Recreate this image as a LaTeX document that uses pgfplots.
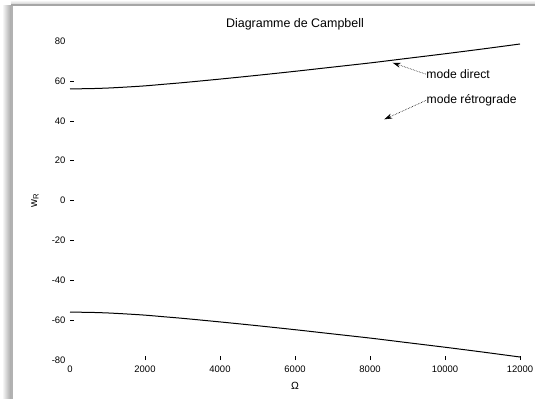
\documentclass[border=0pt]{standalone}
\usepackage{pgfplots}
\pgfplotsset{compat=1.18}
\usepackage{fontspec}
\setmainfont{Liberation Sans}
\usetikzlibrary{arrows.meta}
\begin{document}
\begin{tikzpicture}
\path[use as bounding box] (0bp,0bp) rectangle (535bp,399bp);
% frame / shadow
\shade[left color=white, right color=gray!70] (2bp,0bp) rectangle (11bp,393bp);
\fill[gray!60] (11bp,0bp) rectangle (12.5bp,393bp);
\shade[top color=white, bottom color=gray!35] (11bp,395bp) rectangle (535bp,399bp);
\fill[gray!70] (11bp,392.5bp) rectangle (535bp,394.5bp);
\begin{axis}[
  at={(70bp,39bp)}, anchor=south west,
  width=450bp, height=319bp, scale only axis,
  xmin=0, xmax=12000, ymin=-80, ymax=80,
  axis x line*=bottom, axis y line*=left,
  axis line style={draw=none},
  xtick={2000,4000,...,12000},
  ytick={-60,-40,...,60},
  extra x ticks={0},
  extra y ticks={-80,80},
  extra tick style={major tick length=0pt},
  tick align=inside,
  major tick length=4bp,
  tick style={black, line width=0.5bp},
  scaled x ticks=false,
  /pgf/number format/1000 sep={},
  /pgf/number format/assume math mode=true,
  ticklabel style={font=\fontsize{9.5}{11}\selectfont},
  xticklabel style={yshift=-2bp},
  yticklabel style={xshift=-1bp},
  title={Diagramme de Campbell},
  title style={at={(axis description cs:0.5,1)}, anchor=base, yshift=8bp, font=\fontsize{12.5}{14}\selectfont},
  xlabel={Ω},
  xlabel style={at={(axis description cs:0.5,0)}, anchor=center, yshift=-26bp, font=\fontsize{10.5}{12}\selectfont},
  ylabel={w\textsubscript{R}},
  ylabel style={at={(axis description cs:0,0.5)}, anchor=center, yshift=35bp, font=\fontsize{11}{13}\selectfont},
  clip=false,
]
\addplot[black, line width=1bp, smooth] coordinates {
(0,56.0) (500,56.1) (1000,56.4) (1500,56.9) (2000,57.5) (2500,58.3) (3000,59.1) (4000,60.9) (5000,62.8) (6000,64.8)
(7000,66.9) (8000,69.0) (9000,71.3) (10000,73.6) (11000,76.0) (12000,78.5)};
\addplot[black, line width=1bp, smooth] coordinates {
(0,-56.0) (500,-56.1) (1000,-56.4) (1500,-56.9) (2000,-57.5) (2500,-58.3) (3000,-59.1) (4000,-60.9) (5000,-62.8) (6000,-64.8)
(7000,-66.9) (8000,-69.0) (9000,-71.3) (10000,-73.6) (11000,-76.0) (12000,-78.5)};
\draw[densely dotted, line width=0.6bp, -{Stealth[length=8bp,width=5bp]}] (axis cs:9485,63.4) -- (axis cs:8605,69.1);
\draw[densely dotted, line width=0.6bp, -{Stealth[length=8bp,width=5bp]}] (axis cs:9493,50.2) -- (axis cs:8381,40.7);
\node[anchor=west, inner sep=0.5bp, font=\fontsize{12.2}{14}\selectfont] at (axis cs:9485,63.4) {mode direct};
\node[anchor=west, inner sep=0.5bp, font=\fontsize{12.2}{14}\selectfont] at (axis cs:9493,50.2) {mode rétrograde};
\end{axis}
\end{tikzpicture}
\end{document}
